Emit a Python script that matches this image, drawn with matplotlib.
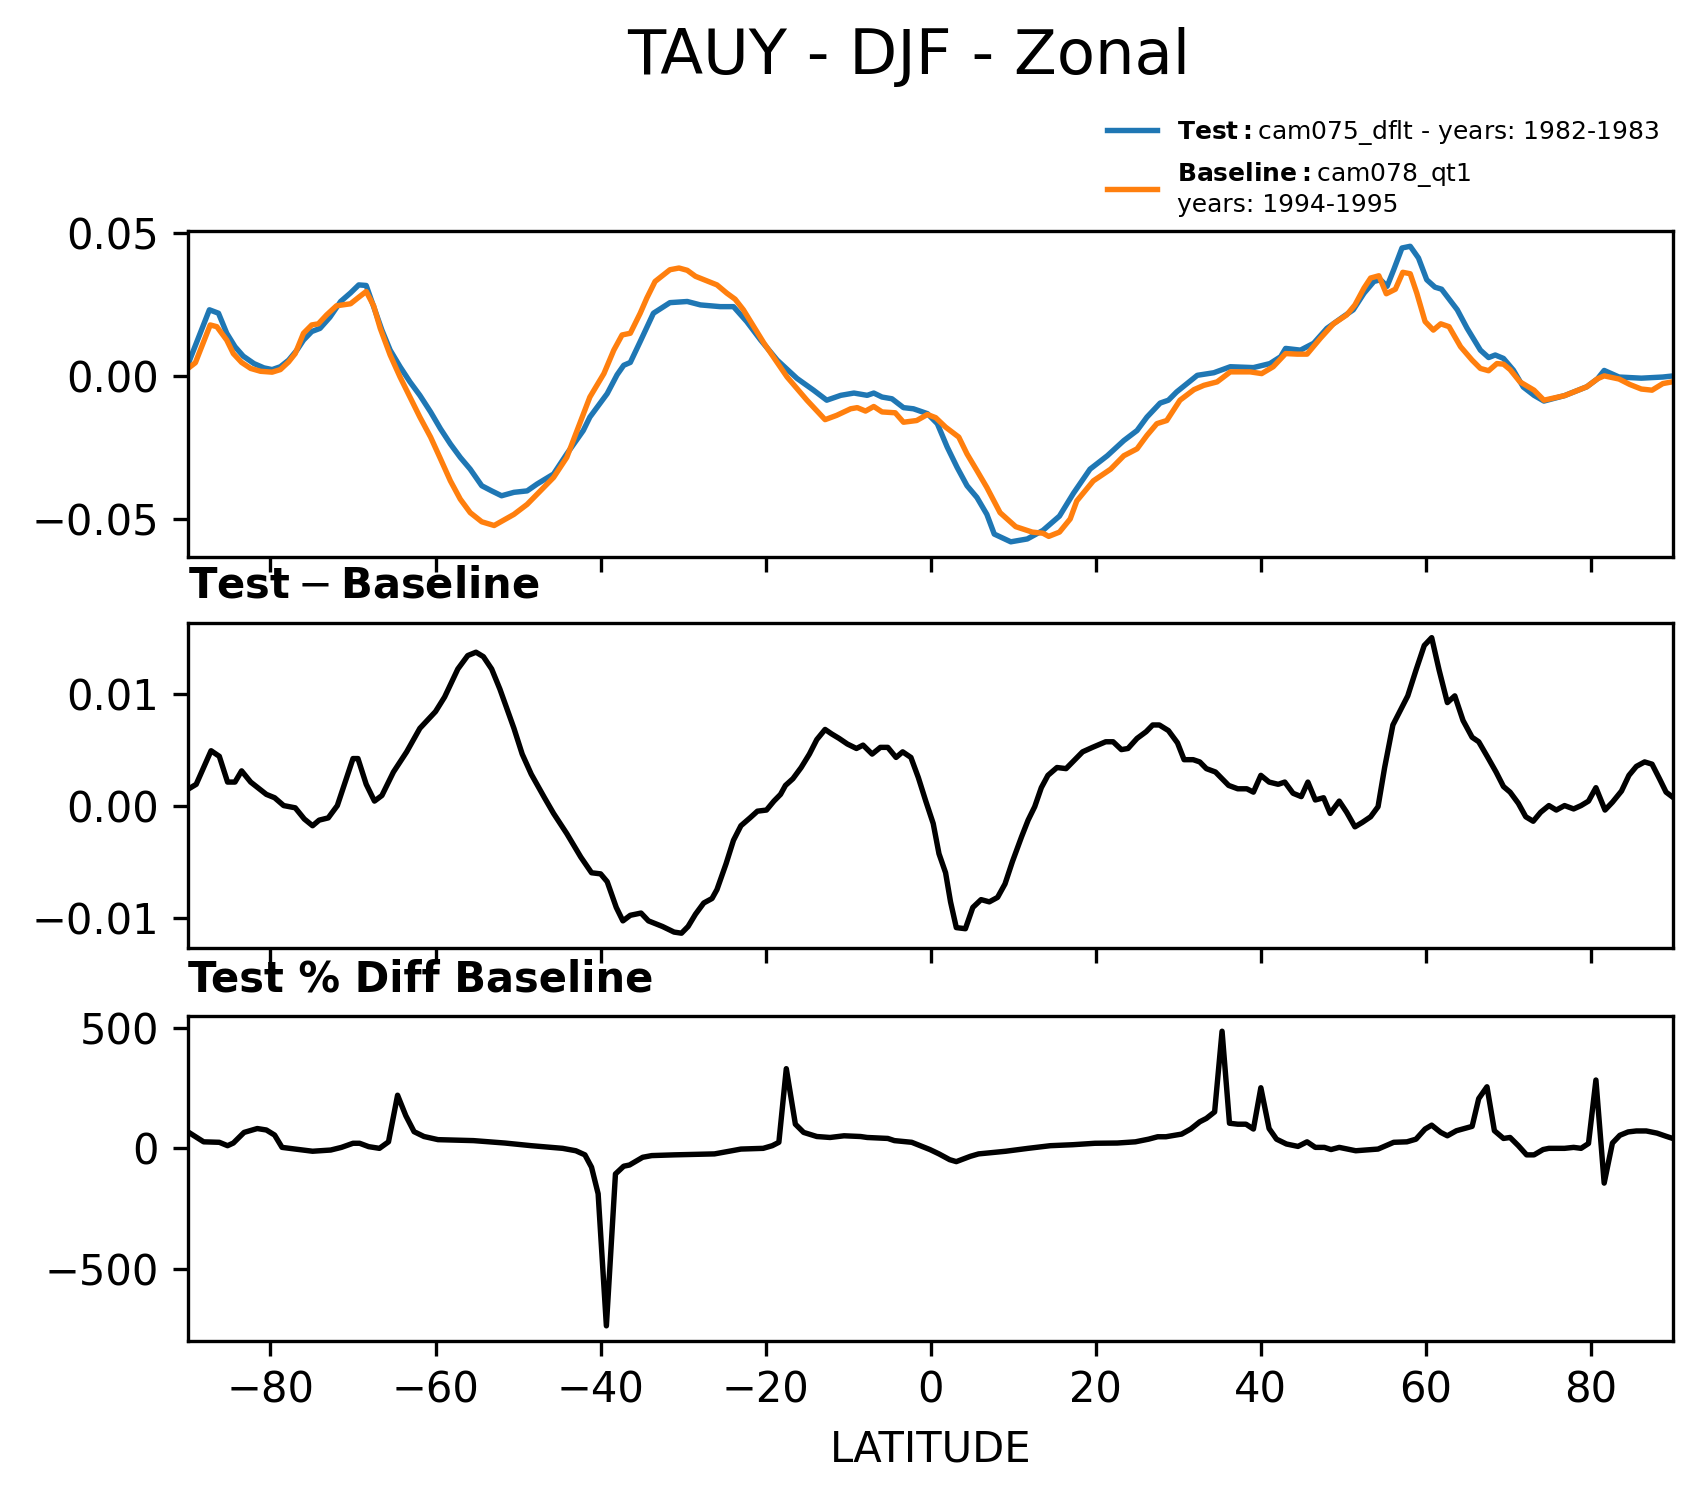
import matplotlib
matplotlib.use("Agg")
import matplotlib.pyplot as plt

# ---- zonal mean TAUY, test case ----
lat_test = [-90.0, -87.4, -86.3, -85.3, -84.3, -83.3, -82.0, -80.8, -79.8, -78.8,
            -77.8, -76.8, -76.0, -75.0, -74.0, -72.8, -71.5, -70.3, -69.3, -68.4,
            -67.5, -66.5, -65.5, -64.3, -63.1, -61.9, -60.6, -59.4, -58.2, -57.0,
            -55.8, -54.4, -53.2, -52.0, -50.5, -48.9, -47.7, -45.7, -44.1, -42.1,
            -41.3, -39.2, -38.0, -37.2, -36.4, -35.2, -33.6, -31.6, -29.5, -27.9,
            -25.5, -23.9, -22.3, -20.6, -18.6, -16.2, -14.2, -12.6, -10.9, -9.3,
            -7.7, -6.9, -5.9, -4.7, -3.3, -2.1, -0.4, 0.8, 2.0, 3.2,
            4.4, 5.6, 6.8, 7.7, 9.7, 11.7, 13.6, 15.6, 17.3, 19.3,
            21.4, 23.4, 25.0, 26.2, 27.8, 28.8, 29.8, 32.3, 34.3, 36.3,
            39.1, 41.1, 42.4, 43.0, 44.8, 46.4, 48.0, 50.0, 51.2, 52.5,
            53.7, 54.5, 55.3, 56.1, 57.1, 58.1, 59.1, 60.1, 61.1, 61.9,
            63.8, 65.0, 66.6, 67.6, 68.4, 69.4, 70.6, 71.8, 73.1, 74.3,
            76.8, 79.5, 80.8, 81.6, 83.4, 86.1, 88.7, 90.0]
tauy_test = [0.0040, 0.0231, 0.0219, 0.0149, 0.0102, 0.0069, 0.0043, 0.0028, 0.0022, 0.0032,
             0.0055, 0.0090, 0.0125, 0.0155, 0.0166, 0.0205, 0.0260, 0.0290, 0.0318, 0.0316,
             0.0242, 0.0160, 0.0090, 0.0032, -0.0021, -0.0068, -0.0126, -0.0185, -0.0238, -0.0285,
             -0.0326, -0.0384, -0.0402, -0.0419, -0.0407, -0.0402, -0.0378, -0.0343, -0.0273, -0.0191,
             -0.0144, -0.0062, 0.0004, 0.0037, 0.0047, 0.0120, 0.0219, 0.0256, 0.0260, 0.0248,
             0.0242, 0.0242, 0.0190, 0.0125, 0.0055, -0.0009, -0.0050, -0.0085, -0.0068, -0.0060,
             -0.0068, -0.0060, -0.0074, -0.0080, -0.0111, -0.0115, -0.0132, -0.0167, -0.0249, -0.0320,
             -0.0384, -0.0425, -0.0484, -0.0553, -0.0580, -0.0570, -0.0540, -0.0490, -0.0410, -0.0326,
             -0.0279, -0.0226, -0.0191, -0.0144, -0.0095, -0.0085, -0.0056, 0.0002, 0.0011, 0.0032,
             0.0029, 0.0043, 0.0067, 0.0096, 0.0090, 0.0114, 0.0166, 0.0207, 0.0231, 0.0289,
             0.0330, 0.0336, 0.0313, 0.0371, 0.0447, 0.0453, 0.0412, 0.0336, 0.0310, 0.0303,
             0.0231, 0.0166, 0.0090, 0.0064, 0.0073, 0.0061, 0.0020, -0.0039, -0.0068, -0.0088,
             -0.0069, -0.0038, -0.0010, 0.0019, -0.0004, -0.0008, -0.0004, 0.0000]

# ---- zonal mean TAUY, baseline case ----
lat_base = [-90.0, -89.1, -87.3, -86.5, -85.3, -84.5, -83.5, -82.4, -81.2, -79.8,
            -78.8, -77.8, -77.0, -76.0, -75.0, -74.2, -73.2, -72.0, -70.3, -69.3,
            -68.4, -67.5, -66.7, -65.5, -64.3, -63.1, -61.9, -60.6, -59.4, -58.2,
            -57.0, -55.8, -54.4, -52.9, -50.5, -48.9, -45.7, -44.1, -41.3, -39.6,
            -38.4, -37.4, -36.4, -35.2, -34.4, -33.4, -31.6, -30.5, -29.5, -28.5,
            -27.3, -25.9, -24.7, -23.7, -22.7, -20.2, -17.4, -15.0, -12.8, -11.4,
            -9.7, -8.9, -7.9, -6.9, -5.9, -4.3, -3.3, -1.7, -0.4, 0.6,
            1.8, 3.4, 4.4, 5.6, 6.8, 8.4, 10.3, 12.3, 13.6, 14.3,
            15.6, 16.9, 17.7, 19.7, 21.8, 23.4, 25.0, 26.2, 27.4, 28.6,
            30.2, 31.9, 33.1, 34.7, 36.3, 38.7, 40.1, 41.5, 43.0, 44.4,
            45.6, 47.2, 48.8, 50.4, 51.4, 52.5, 53.3, 54.3, 55.2, 56.3,
            57.2, 58.1, 58.9, 59.9, 60.9, 61.8, 62.8, 64.2, 65.6, 66.6,
            67.6, 68.6, 69.4, 70.2, 71.4, 73.1, 74.3, 76.8, 79.5, 80.8,
            81.6, 83.4, 84.7, 86.1, 87.4, 88.7, 90.0]
tauy_base = [0.0026, 0.0046, 0.0178, 0.0172, 0.0125, 0.0078, 0.0047, 0.0026, 0.0016, 0.0013,
             0.0022, 0.0049, 0.0078, 0.0149, 0.0178, 0.0182, 0.0213, 0.0245, 0.0252, 0.0275,
             0.0295, 0.0245, 0.0166, 0.0073, -0.0004, -0.0074, -0.0144, -0.0214, -0.0290, -0.0367,
             -0.0431, -0.0478, -0.0510, -0.0523, -0.0484, -0.0449, -0.0355, -0.0285, -0.0074, 0.0008,
             0.0090, 0.0143, 0.0149, 0.0219, 0.0272, 0.0330, 0.0371, 0.0377, 0.0369, 0.0348,
             0.0334, 0.0318, 0.0289, 0.0268, 0.0231, 0.0114, -0.0004, -0.0085, -0.0153, -0.0138,
             -0.0115, -0.0111, -0.0123, -0.0107, -0.0126, -0.0129, -0.0162, -0.0156, -0.0135, -0.0146,
             -0.0179, -0.0214, -0.0273, -0.0331, -0.0390, -0.0478, -0.0527, -0.0546, -0.0550, -0.0561,
             -0.0546, -0.0500, -0.0437, -0.0367, -0.0326, -0.0279, -0.0255, -0.0208, -0.0167, -0.0156,
             -0.0085, -0.0048, -0.0033, -0.0021, 0.0014, 0.0014, 0.0008, 0.0032, 0.0078, 0.0076,
             0.0076, 0.0131, 0.0182, 0.0213, 0.0248, 0.0307, 0.0342, 0.0350, 0.0287, 0.0303,
             0.0362, 0.0357, 0.0289, 0.0190, 0.0160, 0.0182, 0.0172, 0.0102, 0.0055, 0.0026,
             0.0018, 0.0043, 0.0041, 0.0022, -0.0021, -0.0050, -0.0085, -0.0069, -0.0038, -0.0010,
             0.0000, -0.0011, -0.0030, -0.0046, -0.0050, -0.0027, -0.0020]

# ---- test minus baseline ----
lat_diff = [-89.9, -89.0, -87.2, -86.2, -85.2, -84.3, -83.5, -82.4, -80.5, -79.5,
            -78.4, -77.0, -75.9, -74.9, -74.1, -73.0, -71.9, -70.0, -69.4, -68.4,
            -67.4, -66.5, -65.1, -63.5, -61.9, -60.0, -58.9, -57.3, -56.1, -55.1,
            -54.2, -53.2, -52.2, -50.5, -49.5, -48.4, -46.8, -45.7, -44.1, -42.4,
            -41.1, -40.0, -39.2, -38.1, -37.3, -36.4, -35.1, -34.2, -32.5, -31.1,
            -30.2, -29.4, -28.5, -27.5, -26.5, -25.9, -24.8, -23.9, -23.0, -21.9,
            -21.0, -19.9, -19.0, -18.2, -17.6, -16.7, -15.7, -14.7, -13.8, -12.8,
            -12.0, -11.1, -10.1, -9.0, -8.2, -7.1, -6.1, -5.2, -4.2, -3.4,
            -2.4, -1.5, -0.6, 0.3, 1.0, 1.8, 2.4, 3.1, 4.2, 5.1,
            6.1, 7.1, 8.1, 9.0, 9.9, 11.0, 11.8, 12.6, 13.4, 14.2,
            15.3, 16.4, 17.2, 18.4, 19.6, 21.2, 22.1, 23.1, 23.9, 25.0,
            26.1, 26.9, 27.7, 28.8, 29.9, 30.7, 31.8, 32.6, 33.4, 34.5,
            36.1, 37.2, 38.3, 39.1, 40.0, 41.0, 42.1, 42.9, 43.9, 44.9,
            45.7, 46.6, 47.6, 48.4, 49.5, 50.4, 51.4, 52.3, 53.3, 54.2,
            55.0, 56.0, 56.9, 57.8, 58.8, 59.8, 60.7, 61.6, 62.6, 63.5,
            64.5, 65.6, 66.4, 67.5, 68.5, 69.4, 70.2, 71.2, 72.1, 73.0,
            73.9, 74.9, 75.8, 76.8, 77.9, 78.8, 79.7, 80.6, 81.7, 82.6,
            83.7, 84.6, 85.5, 86.5, 87.4, 88.3, 89.1, 90.0]
tauy_diff = [0.0015, 0.0019, 0.0049, 0.0044, 0.0021, 0.0021, 0.0031, 0.0021, 0.0010, 0.0007,
             0.0000, -0.0002, -0.0012, -0.0018, -0.0013, -0.0011, 0.0000, 0.0042, 0.0042, 0.0019,
             0.0004, 0.0009, 0.0030, 0.0048, 0.0069, 0.0084, 0.0097, 0.0122, 0.0134, 0.0137,
             0.0133, 0.0122, 0.0104, 0.0069, 0.0046, 0.0028, 0.0007, -0.0007, -0.0025, -0.0046,
             -0.0060, -0.0061, -0.0068, -0.0091, -0.0103, -0.0098, -0.0096, -0.0103, -0.0108, -0.0113,
             -0.0114, -0.0108, -0.0097, -0.0087, -0.0083, -0.0075, -0.0052, -0.0031, -0.0018, -0.0011,
             -0.0005, -0.0004, 0.0004, 0.0010, 0.0018, 0.0024, 0.0034, 0.0046, 0.0059, 0.0068,
             0.0064, 0.0060, 0.0055, 0.0051, 0.0054, 0.0046, 0.0052, 0.0052, 0.0043, 0.0048,
             0.0043, 0.0025, 0.0004, -0.0016, -0.0043, -0.0060, -0.0086, -0.0109, -0.0110, -0.0091,
             -0.0084, -0.0086, -0.0082, -0.0070, -0.0050, -0.0028, -0.0013, -0.0001, 0.0016, 0.0027,
             0.0034, 0.0033, 0.0039, 0.0048, 0.0052, 0.0057, 0.0057, 0.0050, 0.0051, 0.0060,
             0.0066, 0.0072, 0.0072, 0.0067, 0.0056, 0.0041, 0.0041, 0.0039, 0.0033, 0.0030,
             0.0018, 0.0015, 0.0015, 0.0012, 0.0027, 0.0021, 0.0019, 0.0021, 0.0011, 0.0008,
             0.0021, 0.0005, 0.0007, -0.0007, 0.0004, -0.0006, -0.0019, -0.0015, -0.0010, -0.0001,
             0.0034, 0.0072, 0.0085, 0.0098, 0.0121, 0.0143, 0.0150, 0.0121, 0.0092, 0.0098,
             0.0076, 0.0061, 0.0057, 0.0043, 0.0030, 0.0017, 0.0012, 0.0002, -0.0010, -0.0014,
             -0.0006, 0.0000, -0.0004, 0.0000, -0.0003, 0.0000, 0.0004, 0.0016, -0.0004, 0.0003,
             0.0013, 0.0027, 0.0035, 0.0039, 0.0037, 0.0024, 0.0012, 0.0007]

# ---- test % diff baseline ----
lat_pct = [-89.9, -88.1, -86.2, -85.2, -84.5, -83.2, -81.6, -80.5, -79.5, -78.6,
           -77.0, -74.9, -72.7, -71.4, -70.0, -69.2, -68.1, -66.8, -65.7, -64.6,
           -63.6, -62.6, -61.4, -59.7, -55.4, -51.6, -48.4, -44.6, -43.0, -41.9,
           -41.1, -40.3, -39.3, -38.2, -37.2, -36.5, -34.9, -33.8, -31.1, -26.2,
           -24.1, -23.0, -20.3, -19.2, -18.4, -17.5, -16.4, -15.4, -13.8, -12.2,
           -10.5, -8.5, -7.7, -5.2, -4.4, -2.3, -0.1, 1.0, 2.3, 3.1,
           4.8, 5.8, 9.1, 11.8, 14.5, 17.2, 19.9, 22.6, 24.8, 26.4,
           27.5, 28.5, 30.4, 31.5, 32.6, 33.4, 34.4, 35.3, 36.2, 37.2,
           38.2, 39.1, 40.0, 41.0, 41.9, 43.1, 44.5, 45.6, 46.6, 47.7,
           48.5, 49.5, 51.5, 54.2, 56.1, 57.7, 58.8, 59.9, 60.7, 61.8,
           62.6, 63.7, 65.6, 66.4, 67.4, 68.3, 69.4, 70.2, 71.2, 72.2,
           73.1, 74.2, 74.9, 76.8, 77.9, 78.8, 79.7, 80.6, 81.6, 82.6,
           83.5, 84.5, 85.5, 86.7, 88.0, 89.1, 90.0]
pct_diff = [66, 27, 25, 11, 22, 66, 82, 76, 55, 4,
            -3, -12, -7, 4, 21, 21, 7, 0, 27, 220,
            135, 69, 49, 36, 32, 22, 11, 0, -10, -27,
            -78, -188, -735, -106, -74, -69, -37, -30, -27, -23,
            -10, -3, 0, 11, 25, 330, 100, 66, 49, 45,
            52, 49, 45, 41, 32, 25, -5, -23, -47, -55,
            -33, -23, -12, 0, 11, 15, 21, 22, 27, 38,
            48, 48, 59, 80, 110, 124, 151, 485, 104, 100,
            100, 80, 251, 82, 38, 18, 8, 27, 4, 4,
            -5, 4, -10, -3, 25, 27, 38, 80, 96, 66,
            52, 73, 91, 206, 255, 73, 41, 45, 11, -27,
            -27, -5, 0, 0, 4, 0, 20, 283, -144, 22,
            54, 68, 72, 72, 63, 50, 40]

lat_ticks = [-80, -60, -40, -20, 0, 20, 40, 60, 80]

plt.rcParams['font.size'] = 10
fig = plt.figure(figsize=(5.68, 4.987), dpi=300)

left, width, height = 0.1103, 0.8718, 0.2173
ax1 = fig.add_axes([left, 0.6279, width, height])
ax2 = fig.add_axes([left, 0.3663, width, height], sharex=ax1)
ax3 = fig.add_axes([left, 0.1039, width, 0.2166], sharex=ax1)

ax1.plot(lat_test, tauy_test, color='#1f77b4', lw=1.3,
         label=r"$\bf{Test}:$cam075_dflt - years: 1982-1983")
ax1.plot(lat_base, tauy_base, color='#ff7f0e', lw=1.3,
         label=r"$\bf{Baseline}:$cam078_qt1" + "\n" + "years: 1994-1995")
ax1.set_yticks([-0.05, 0.0, 0.05])
ax1.legend(loc='lower right', bbox_to_anchor=(1.0, 1.0), frameon=False,
           fontsize=6, borderaxespad=0.2)

ax2.plot(lat_diff, tauy_diff, color='black', lw=1.3)
ax2.set_yticks([-0.01, 0.0, 0.01])
ax2.set_title(r"$\mathbf{Test} - \mathbf{Baseline}$", loc='left', fontsize=10)

ax3.plot(lat_pct, pct_diff, color='black', lw=1.3)
ax3.set_yticks([-500, 0, 500])
ax3.set_title("Test % Diff Baseline", loc='left', fontsize=10, fontweight='bold')
ax3.set_xlabel("LATITUDE")

ax1.set_xlim(-90, 90)
ax3.set_xticks(lat_ticks)
plt.setp(ax1.get_xticklabels(), visible=False)
plt.setp(ax2.get_xticklabels(), visible=False)

fig.suptitle("TAUY - DJF - Zonal", x=0.533, y=0.982, fontsize=15)

fig.savefig("out.png", dpi=300)
